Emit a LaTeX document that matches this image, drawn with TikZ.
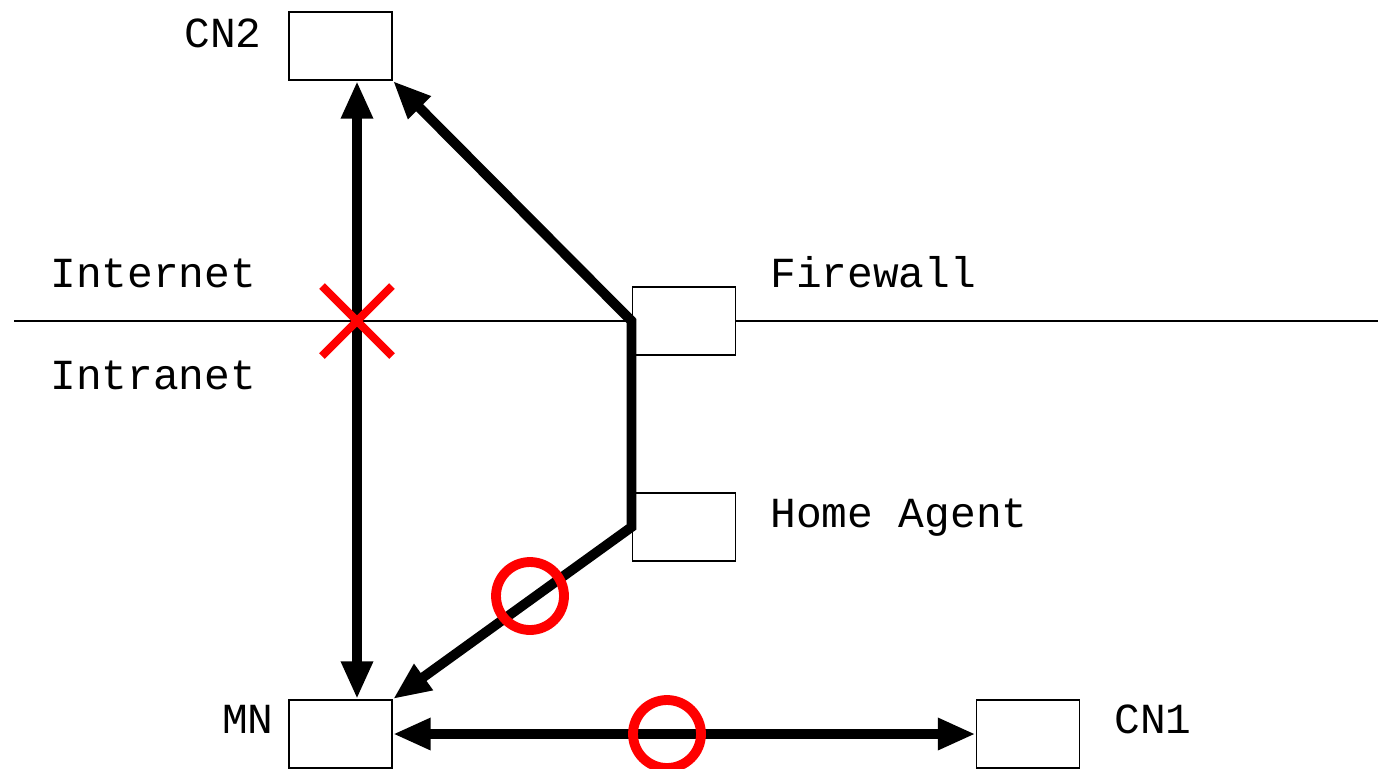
\documentclass[tikz,border=0pt]{standalone}
\usepackage{fontspec}
\setmonofont{Liberation Mono}
\usetikzlibrary{arrows.meta,calc}
\begin{document}
\begin{tikzpicture}[x=0.02cm,y=-0.02cm,
  box/.style={draw,line width=1.1pt,fill=white,minimum width=2.06cm,minimum height=1.36cm,inner sep=0pt},
  lbl/.style={font=\ttfamily\fontsize{24.4}{28}\selectfont,inner sep=0pt},
  conn/.style={line width=5.6pt,arrows={Triangle[length=21.5pt,width=17pt]-Triangle[length=21.5pt,width=17pt]}},
  redmark/.style={red,line width=5.6pt}
]
\useasboundingbox (0,0) rectangle (1378,768);
\draw[line width=0.85pt] (14,321) -- (1378,321);
\node[box] (cn2) at (340.5,46) {};
\node[box] (fw) at (684,321) {};
\node[box] (ha) at (684,527) {};
\node[box] (mn) at (340.5,734) {};
\node[box] (cn1) at (1028,734) {};
\coordinate (cross) at (357,321);
\node[lbl,anchor=base east] (tcn2) at (262,47) {CN2};
\node[lbl,anchor=base west] (tinet) at (50,287) {Internet};
\node[lbl,anchor=base west] (tintra) at (50,389) {Intranet};
\node[lbl,anchor=base west] (tfw) at (770,287) {Firewall};
\node[lbl,anchor=base west] (tha) at (770,527) {Home Agent};
\node[lbl,anchor=base east] (tmn) at (274,733) {MN};
\node[lbl,anchor=base west] (tcn1) at (1114,733) {CN1};
\draw[conn] (cn2.south -| cross) -- (mn.north -| cross);
\draw[conn] (cn2.south east) -- (fw.west) -- (ha.west) -- (mn.north east);
\draw[conn] (mn.east) -- (cn1.west);
\draw[red,line width=4.6pt] ($(cross)+(-35,-35)$) -- ($(cross)+(35,35)$)
  ($(cross)+(-35,35)$) -- ($(cross)+(35,-35)$);
\draw[redmark] (530,596) circle[radius=0.68cm];
\draw[redmark] (667,734) circle[radius=0.68cm];
\end{tikzpicture}
\end{document}
